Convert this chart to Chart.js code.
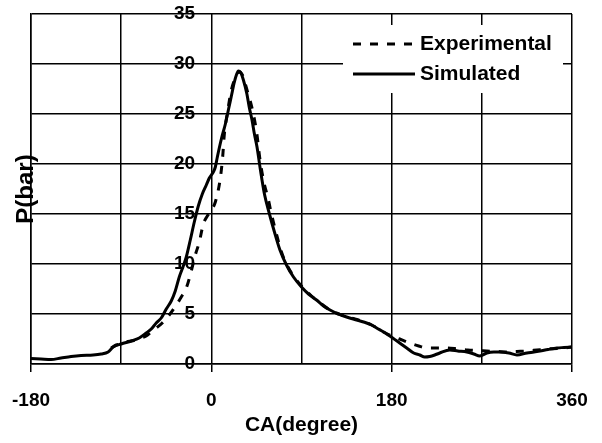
<!DOCTYPE html>
<html>
<head>
<meta charset="utf-8">
<script src="https://cdn.jsdelivr.net/npm/chart.js@4/dist/chart.umd.min.js"></script>
<style>
  html, body { margin: 0; padding: 0; background: #fff; }
  canvas { display: block; }
</style>
</head>
<body>
<canvas id="c" width="602" height="443"></canvas>
<script>
// ---- data ----
const seriesNames = ["Experimental", "Simulated"];

const expCA = [-100,-95,-90,-85,-80,-75,-70,-65,-60,-55,-49,-42,-35,-30,-25,-20,-16,-12,-8,-4,0,4,9,11.3,13,16,20,24,28,31,35.6,41.5,45.6,48.2,52,57,60,65,70,75,82,90,100,110,120,130,140,150,160,170,178,188,198,207,216,226,236,246,256,265,275,285,295,305,315,325,335,345,352,360];
const expP  = [1.6,1.9,2.0,2.2,2.3,2.4,2.6,2.8,3.2,3.6,4.1,4.9,5.9,6.7,7.6,9.3,10.9,12.2,14.0,14.8,15.4,16.2,18.6,20.7,23,25.1,27.4,28.6,29.2,28.9,27.4,25.2,22.9,20.7,18.4,16.4,15,13,11.2,10.0,8.8,7.8,6.8,6.0,5.3,4.9,4.6,4.3,3.9,3.3,2.9,2.5,2.1,1.8,1.6,1.6,1.6,1.5,1.4,1.35,1.3,1.25,1.2,1.25,1.3,1.4,1.5,1.55,1.6,1.7];

const simCA = [-180,-170,-160,-150,-140,-130,-118,-110,-103,-98,-90,-80,-72,-65,-60,-55,-50,-45,-40,-36,-32,-28,-25,-21,-17,-13,-9,-5,-2,2,4,6,10,14,17,20,23,25,27,29,32,35.5,38,40.6,43,45.6,49,53,58,63,68.5,75,82,90,97,105,112,118.5,127,135,145,152,160,165,172,181,188,195,202,208,213,218,223,228,238,246,255,262,268,275,282,288,297,305,315,322,328,336,345,352,360];
const simP  = [0.55,0.5,0.45,0.6,0.75,0.85,0.9,1.0,1.2,1.7,2.0,2.3,2.6,3.1,3.5,4.1,4.6,5.5,6.3,7.3,8.7,9.8,10.7,12.4,14.2,15.8,17,17.9,18.6,19.2,19.7,20.7,22.5,24,25.4,26.8,28.2,28.9,29.3,29.2,28.4,27,25.6,24.4,23,21.7,19.4,17,15,13.2,11.4,9.9,8.7,7.7,7.0,6.4,5.8,5.4,5.0,4.7,4.4,4.2,3.9,3.6,3.2,2.6,2.1,1.6,1.1,0.9,0.7,0.75,0.9,1.1,1.4,1.3,1.2,1.0,0.8,1.1,1.2,1.2,1.1,0.9,1.1,1.2,1.3,1.45,1.6,1.65,1.7];

const xTickLabels = [-180, 0, 180, 360];
const xTitle = "CA(degree)";
const yTitle = "P(bar)";

// ---- chart ----
const FONT = "'Liberation Sans', Arial, sans-serif";
const pts = (xs, ys) => xs.map((x, i) => ({x: x, y: ys[i]}));

const legendBox = {
  id: 'legendBox',
  afterDraw(chart) {
    const {ctx, chartArea} = chart;
    const right = chartArea.right - 9, top = chartArea.top + 11;
    const left = right - 220, bottom = top + 68;
    ctx.save();
    ctx.fillStyle = '#fff';
    ctx.fillRect(left, top, right - left, bottom - top);
    ctx.font = 'bold 21px ' + FONT;
    ctx.textBaseline = 'middle';
    ctx.textAlign = 'left';
    chart.data.datasets.forEach((ds, i) => {
      const y = top + 19 + i * 30;
      ctx.beginPath();
      ctx.strokeStyle = ds.borderColor;
      ctx.lineWidth = ds.borderWidth;
      ctx.setLineDash(ds.borderDash || []);
      ctx.moveTo(left + 10, y);
      ctx.lineTo(left + 72, y);
      ctx.stroke();
      ctx.setLineDash([]);
      ctx.fillStyle = '#000';
      ctx.fillText(ds.label, left + 77, y);
    });
    ctx.restore();
  }
};

new Chart(document.getElementById('c'), {
  type: 'line',
  data: {
    datasets: [
      { label: seriesNames[0], data: pts(expCA, expP), borderColor: '#000', borderWidth: 3,
        borderDash: [8, 9], pointRadius: 0, cubicInterpolationMode: 'monotone', fill: false },
      { label: seriesNames[1], data: pts(simCA, simP), borderColor: '#000', borderWidth: 3,
        pointRadius: 0, cubicInterpolationMode: 'monotone', fill: false }
    ]
  },
  options: {
    responsive: false,
    animation: false,
    layout: { padding: { top: 14, right: 30, left: 0, bottom: 0 } },
    plugins: { legend: { display: false }, tooltip: { enabled: false } },
    scales: {
      x: {
        type: 'linear', position: 'bottom', min: -180, max: 360,
        afterFit(s) { s.height = 79; s.paddingLeft = 0; s.paddingRight = 0; },
        ticks: {
          stepSize: 90, autoSkip: false, maxRotation: 0, padding: 17, color: '#000',
          font: { family: FONT, size: 19, weight: 'bold' },
          callback: (v) => xTickLabels.includes(v) ? String(v) : ''
        },
        grid: {
          color: '#000', lineWidth: 1.5, tickLength: 8,
          tickColor: (c) => (c.tick && xTickLabels.includes(c.tick.value)) ? '#000' : 'rgba(0,0,0,0)'
        },
        border: { color: '#000', width: 1.5 },
        title: { display: true, text: xTitle, color: '#000',
          font: { family: FONT, size: 21, weight: 'bold' }, padding: { top: 0, bottom: 5 } }
      },
      y: {
        type: 'linear', position: 'left', min: 0, max: 35,
        afterFit(s) { s.width = 31; s.paddingTop = 0; s.paddingBottom = 0; },
        ticks: {
          stepSize: 5, mirror: true, crossAlign: 'far', padding: 143, color: '#000',
          font: { family: FONT, size: 19, weight: 'bold' }
        },
        grid: { color: '#000', lineWidth: 1.5, drawTicks: false },
        border: { color: '#000', width: 1.5 },
        title: { display: true, text: yTitle, color: '#000',
          font: { family: FONT, size: 24, weight: 'bold' }, padding: { top: 12, bottom: 0 } }
      }
    }
  },
  plugins: [legendBox]
});
</script>
</body>
</html>
